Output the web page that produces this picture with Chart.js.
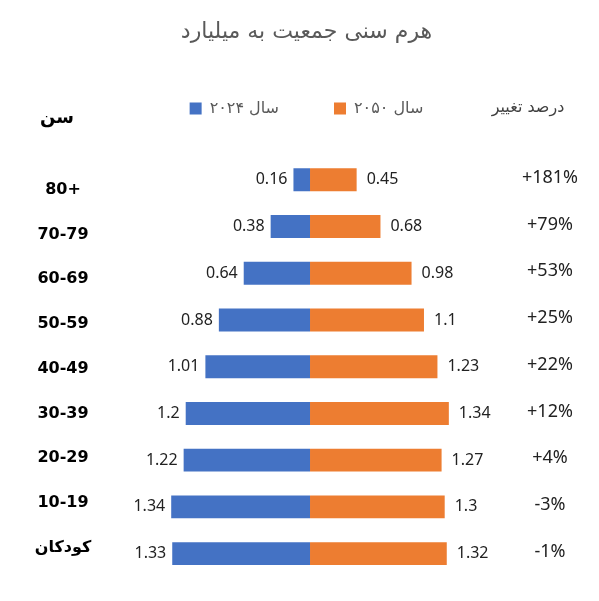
<!DOCTYPE html>
<html lang="fa" dir="ltr">
<head>
<meta charset="utf-8">
<title>هرم سنی جمعیت به میلیارد</title>
<script src="https://cdn.jsdelivr.net/npm/chart.js@4.4.1/dist/chart.umd.min.js"></script>
<style>
  html, body { margin: 0; padding: 0; background: #fff; }
  #wrap { width: 599px; height: 601px; position: relative; direction: ltr; }
</style>
</head>
<body>
<div id="wrap"><canvas id="hermChart"></canvas></div>
<script>
// گروه‌های سنی، از بالا به پایین
const gorooh = ['80+', '70-79', '60-69', '50-59', '40-49', '30-39', '20-29', '10-19', 'کودکان'];
const sal2024 = [0.16, 0.38, 0.64, 0.88, 1.01, 1.2, 1.22, 1.34, 1.33]; // میلیارد نفر
const sal2050 = [0.45, 0.68, 0.98, 1.1, 1.23, 1.34, 1.27, 1.3, 1.32];
const taghyir = ['+181%', '+79%', '+53%', '+25%', '+22%', '+12%', '+4%', '-3%', '-1%'];

const abi = '#4472C4';
const narenji = '#ED7D31';

// متن چپ‌به‌راست جدا شده، تا «+» جابه‌جا نشود
const ltr = s => '\u2066' + s + '\u2069';

// برچسب مقدارها، گروه‌های سنی و درصد تغییر
const barchasb = {
  id: 'barchasb',
  afterDatasetsDraw(chart) {
    const ctx = chart.ctx;
    const y = chart.scales.y;
    ctx.save();
    ctx.direction = 'ltr';
    ctx.textBaseline = 'middle';

    ctx.font = '16px "Noto Sans"';
    ctx.fillStyle = '#222222';
    chart.getDatasetMeta(0).data.forEach((bar, i) => {
      ctx.textAlign = 'right';
      ctx.fillText(String(sal2024[i]), bar.x - 6, bar.y);
    });
    chart.getDatasetMeta(1).data.forEach((bar, i) => {
      ctx.textAlign = 'left';
      ctx.fillText(String(sal2050[i]), bar.x + 10, bar.y);
    });

    // گروه سنی سمت چپ
    ctx.font = 'bold 16px "DejaVu Sans"';
    ctx.fillStyle = '#000000';
    ctx.textAlign = 'center';
    gorooh.forEach((g, i) => {
      ctx.fillText(ltr(g), 63, y.getPixelForValue(i) + 10 - 2 * i);
    });

    // درصد تغییر سمت راست
    ctx.font = '18px "Noto Sans"';
    ctx.fillStyle = '#222222';
    taghyir.forEach((t, i) => {
      ctx.fillText(ltr(t), 550, y.getPixelForValue(i) - 2);
    });

    // سرستون‌ها
    ctx.font = '16px "DejaVu Sans"';
    ctx.fillStyle = '#404040';
    ctx.fillText('درصد تغییر', 528, 108);
    ctx.font = 'bold 18px "DejaVu Sans"';
    ctx.fillStyle = '#000000';
    ctx.fillText('سن', 57, 118);
    ctx.restore();
  }
};

var ctx = document.getElementById('hermChart').getContext('2d');

var hermChart = new Chart(ctx, {
  type: 'bar',
  data: {
    labels: gorooh,
    datasets: [{
      label: '۲۰۲۴ سال',
      data: sal2024.map(v => -v), // سمت چپ
      backgroundColor: abi,
      borderWidth: 0,
      barPercentage: 0.49,
      categoryPercentage: 1.0
    }, {
      label: '۲۰۵۰ سال',
      data: sal2050,
      backgroundColor: narenji,
      borderWidth: 0,
      barPercentage: 0.49,
      categoryPercentage: 1.0
    }]
  },
  options: {
    indexAxis: 'y',
    responsive: true,
    maintainAspectRatio: false,
    animation: false,
    layout: {
      padding: { left: 27, right: 13, top: 0, bottom: 24 }
    },
    scales: {
      x: {
        position: 'top',
        stacked: true,
        min: -2.732,
        max: 2.664,
        ticks: { display: false },
        grid: { display: false },
        border: { display: false },
        afterFit: function (s) { s.height = 30; } // فاصله بین راهنما و میله‌ها
      },
      y: {
        stacked: true,
        display: false
      }
    },
    plugins: {
      title: {
        display: true,
        text: 'هرم سنی جمعیت به میلیارد',
        color: '#595959',
        font: { size: 22, family: '"DejaVu Sans"', weight: 'normal' },
        padding: { top: 19, bottom: 0 }
      },
      legend: {
        labels: {
          boxWidth: 12,
          boxHeight: 12,
          padding: 55,
          color: '#595959',
          font: { size: 16, family: '"DejaVu Sans"' }
        }
      },
      tooltip: { enabled: false }
    }
  },
  plugins: [barchasb]
});
</script>
</body>
</html>
